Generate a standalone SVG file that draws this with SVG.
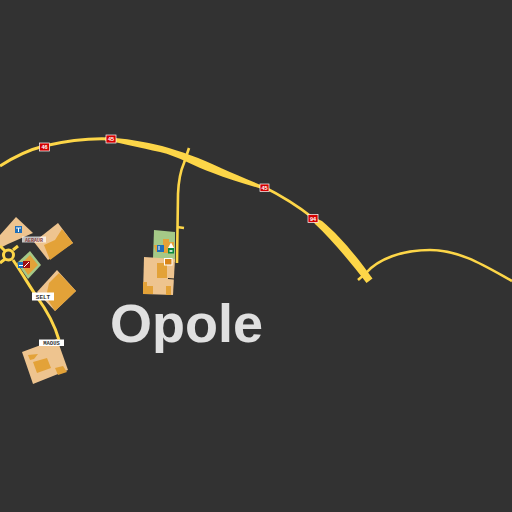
<svg xmlns="http://www.w3.org/2000/svg" width="512" height="512" viewBox="0 0 512 512">
<style>
.rd{fill:none;stroke:#fdd648;stroke-linecap:butt;stroke-linejoin:round}
.wd{fill:#fdd648;stroke:none}
.tan{fill:#eec48f}
.org{fill:#e3a238}
.shield{fill:#d40000;stroke:#fff;stroke-width:.7}
.st{font:bold 5.500px "Liberation Sans",sans-serif;fill:#fff;text-anchor:middle}
.lb{fill:#fff}
.lt{font:bold 6px "Liberation Mono",monospace;fill:#333;text-anchor:middle}
.ib{fill:#1f6fb8}
</style>
<rect width="512" height="512" fill="#323232"/>
<g id="buildings">
<path class="tan" d="M0 235L16 217L33 233L8 244L0 248Z"/>
<path class="tan" d="M58 223L73 243L48 260L34 242Z"/>
<path class="org" d="M62 229L73 243L50 260L44 245L55 240Z"/>
<path fill="#a5c987" d="M30 251L41 265L28 279L17 263Z"/>
<path class="org" d="M30 255L38 265L28 275L21 264Z"/>
<path class="tan" d="M57 270L76 291L55 311L37 292Z"/>
<path class="org" d="M59 273L76 291L55 311L46 297L49 283Z"/>
<path class="tan" d="M22 352L57 339L68 370L33 384Z"/>
<path class="org" d="M33 362L47 358L51 368L37 373Z"/>
<path class="org" d="M28 355L38 354L34 359L30 360Z"/>
<path class="org" d="M55 368L63 366L67 372L58 375Z"/>
<path fill="#a5c987" d="M154 230L175 232L175 262L153 258Z"/>
<path class="org" d="M163 239L169 239L169 253L163 253ZM154 245L163 245L163 252L156 252Z"/>
<path class="tan" d="M144 257L175 259L173 295L143 294Z"/>
<path class="org" d="M157 263L167 263L167 278L157 278ZM143 282L147 282L147 286L153 286L153 294L143 294ZM166 286L171 286L171 295L166 295Z"/>
<path d="M168 278.500L174 279" stroke="#222" stroke-width="1"/>
</g>
<g id="connectors">
<path class="rd" stroke-width="3" d="M0 166C14 157 28 150 44 146C66 141 88 138 110 139"/>
<path class="wd" d="M105 137.500C125 138 145 142 162 146C180 151 200 158 222 168.500C235 174 250 181 266 187L265 190C246 184 228 179 213 173C195 167 178 156 160 152C140 148 122 143 105 140.500Z"/>
<path class="rd" stroke-width="2.600" d="M262 186C280 195 298 206 313 218"/>
<path class="wd" d="M309 215L322 221C340 236 358 258 372.500 278.500L366.500 283C352 264 333 241 315 224Z"/>
<path class="rd" stroke-width="2.600" d="M358 280L366 273C378 259 402 250 430 250C460 250 485 266 512 281"/>
<path class="rd" stroke-width="2.600" d="M189 148L184 163C180 172 178.500 182 178 194L177 263"/>
<path class="rd" stroke-width="2.600" d="M177 227L184 228"/>
<circle class="rd" cx="8.500" cy="255" r="5" stroke-width="3"/>
<path class="rd" stroke-width="3" d="M0 246L5 251M13 250L18 246M0 263L5 259M13 260C22 273 30 287 37 297C48 312 55 326 59 340"/>
</g>
<g id="shields">
<g id="s1"><rect class="shield" x="39.500" y="143" width="10" height="8"/><text class="st" x="44.500" y="149">46</text></g>
<g id="s2"><rect class="shield" x="106" y="135" width="10" height="8"/><text class="st" x="111" y="141">45</text></g>
<g id="s3"><rect class="shield" x="260" y="184" width="9" height="7.500"/><text class="st" x="264.500" y="190">45</text></g>
<g id="s4"><rect class="shield" x="308" y="214.500" width="10" height="8"/><text class="st" x="313" y="220.500">94</text></g>
</g>
<g id="icons">
<rect class="ib" x="15" y="226" width="7" height="7"/>
<path d="M16 228H21M18.500 228V232" stroke="#fff" stroke-width="1"/>
<rect class="ib" x="18" y="262" width="6" height="6"/>
<rect x="23" y="261" width="7" height="7" fill="#a01010"/>
<path d="M24 267L29 262" stroke="#fff" stroke-width="1"/>
<path d="M19 265.500H23" stroke="#fff" stroke-width="1"/>
<rect class="ib" x="157" y="245" width="7" height="7"/>
<path d="M158 247H160M158 249H160" stroke="#fff" stroke-width="1"/>
<rect x="168" y="242" width="6" height="6" fill="#e3a238"/>
<path d="M168 248L171 242.500L174 248Z" fill="#fff"/>
<rect x="168" y="248" width="6" height="5.500" fill="#0a8a3c"/>
<path d="M169.500 251H172.500" stroke="#fff" stroke-width="1.500"/>
<rect x="164.500" y="258.500" width="7.500" height="6.500" fill="#d9861a" stroke="#fff"/>
</g>
<g id="labels">
<g id="l1"><rect class="lb" x="22" y="236.500" width="24" height="6" opacity=".7"/><text class="lt" x="34" y="241.500" style="font-size:5px;fill:#844">AERAUR</text></g>
<g id="l2"><rect class="lb" x="32" y="292.500" width="22" height="8"/><text class="lt" x="43" y="299">SELT</text></g>
<g id="l3"><rect class="lb" x="39" y="339.500" width="25" height="6.500"/><text class="lt" x="51.500" y="345" style="font-size:5.500px">MAOUS</text></g>
</g>
<text id="city" x="110" y="342" font-family="Liberation Sans, Arial, sans-serif" font-weight="700" font-size="54" fill="#e0e0e0">Opole</text>
</svg>
